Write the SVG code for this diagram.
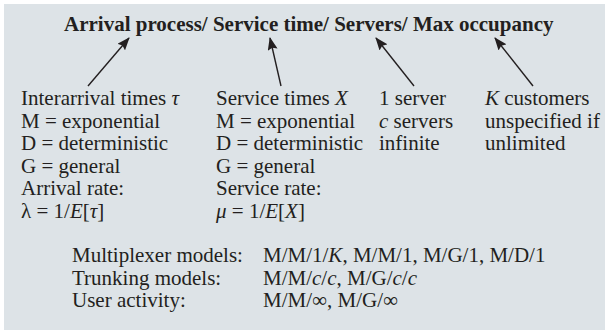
<svg xmlns="http://www.w3.org/2000/svg" width="605" height="330" viewBox="0 0 605 330">
<style>
text{font-family:"Liberation Serif","Times New Roman",serif;font-size:21px;fill:#231f20}
.t{font-weight:bold}
.i{font-style:italic}
.c{stroke:#231f20;stroke-width:1.4;fill:none}
</style>
<defs>
<marker id="ah" markerWidth="13" markerHeight="10" refX="12" refY="5" orient="auto" markerUnits="userSpaceOnUse">
<path d="M0,0 L13,5 L0,10 L2,5 Z" fill="#231f20"/>
</marker>
</defs>
<rect x="4" y="4" width="601" height="326" fill="#dde3e7"/>
<g id="title"><text class="t" x="64" y="31">Arrival process/ Service time/ Servers/ Max occupancy</text></g>
<g id="connectors">
<line class="c" x1="88" y1="86" x2="129" y2="38" marker-end="url(#ah)"/>
<line class="c" x1="281" y1="86" x2="270" y2="38" marker-end="url(#ah)"/>
<line class="c" x1="414" y1="86" x2="376" y2="38" marker-end="url(#ah)"/>
<line class="c" x1="533" y1="86" x2="495" y2="38" marker-end="url(#ah)"/>
</g>
<g id="arrival">
<text x="21" y="105">Interarrival times <tspan class="i">τ</tspan></text>
<text x="21" y="127.5">M = exponential</text>
<text x="21" y="150">D = deterministic</text>
<text x="21" y="172.5">G = general</text>
<text x="21" y="195">Arrival rate:</text>
<text x="21" y="217.5">λ = 1/<tspan class="i">E</tspan>[<tspan class="i">τ</tspan>]</text>
</g>
<g id="service">
<text x="216" y="105">Service times <tspan class="i">X</tspan></text>
<text x="216" y="127.5">M = exponential</text>
<text x="216" y="150">D = deterministic</text>
<text x="216" y="172.5">G = general</text>
<text x="216" y="195">Service rate:</text>
<text x="216" y="217.5"><tspan class="i">μ</tspan> = 1/<tspan class="i">E</tspan>[<tspan class="i">X</tspan>]</text>
</g>
<g id="servers">
<text x="379" y="105">1 server</text>
<text x="379" y="127.5"><tspan class="i">c</tspan> servers</text>
<text x="379" y="150">infinite</text>
</g>
<g id="occupancy">
<text x="485" y="105"><tspan class="i">K</tspan> customers</text>
<text x="485" y="127.5">unspecified if</text>
<text x="485" y="150">unlimited</text>
</g>
<g id="models">
<text x="72" y="262">Multiplexer models:</text>
<text x="263" y="262">M/M/1/<tspan class="i">K</tspan>, M/M/1, M/G/1, M/D/1</text>
<text x="72" y="284.5">Trunking models:</text>
<text x="263" y="284.5">M/M/<tspan class="i">c</tspan>/<tspan class="i">c</tspan>, M/G/<tspan class="i">c</tspan>/<tspan class="i">c</tspan></text>
<text x="72" y="307">User activity:</text>
<text x="263" y="307">M/M/∞, M/G/∞</text>
</g>
</svg>
